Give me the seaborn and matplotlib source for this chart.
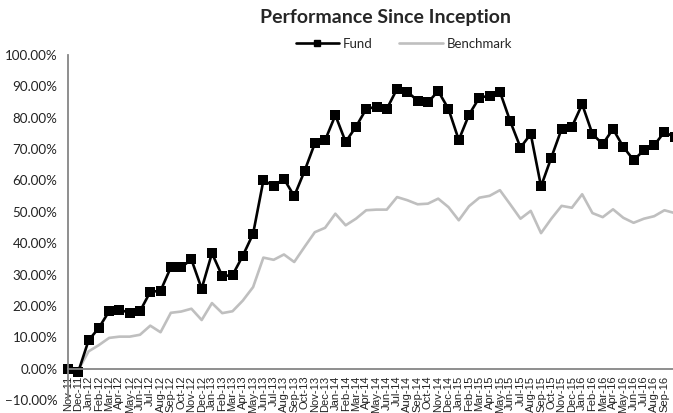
import pandas as pd
import numpy as np
import matplotlib
matplotlib.use("Agg")
import matplotlib.pyplot as plt
import seaborn as sns
from matplotlib.lines import Line2D
from matplotlib.ticker import PercentFormatter

# monthly cumulative returns (%), Nov-11 .. Oct-16 (last point cut off at right edge)
months = list(pd.date_range("2011-11-01", periods=60, freq="MS").strftime("%b-%y"))

fund = [0.0, -1.0, 9.0, 13.0, 18.3, 18.8, 17.8, 18.3, 24.5, 24.8,
        32.3, 32.3, 34.8, 25.5, 36.8, 29.5, 29.8, 36.0, 43.0, 60.0,
        58.3, 60.5, 55.0, 63.0, 71.8, 72.8, 80.8, 72.3, 77.1, 82.8,
        83.5, 82.8, 89.2, 88.3, 85.4, 84.9, 88.5, 82.8, 72.9, 81.0,
        86.4, 87.0, 88.3, 78.9, 70.5, 74.8, 58.1, 67.3, 76.4, 77.1,
        84.3, 74.8, 71.6, 76.4, 70.7, 66.5, 69.6, 71.2, 75.5, 73.7]

benchmark = [0.0, -0.5, 5.5, 7.5, 9.8, 10.2, 10.2, 10.8, 13.7, 11.6,
             17.8, 18.2, 19.1, 15.5, 20.9, 17.7, 18.3, 21.7, 26.0, 35.4,
             34.7, 36.4, 34.0, 38.8, 43.5, 44.9, 49.4, 45.7, 47.8, 50.5,
             50.7, 50.7, 54.7, 53.7, 52.4, 52.6, 54.2, 51.5, 47.3, 51.8,
             54.5, 55.1, 56.9, 52.4, 47.8, 50.3, 43.2, 47.8, 51.9, 51.3,
             55.6, 49.6, 48.3, 50.8, 48.1, 46.5, 47.8, 48.6, 50.5, 49.6]

df = pd.DataFrame({"idx": np.arange(len(months)),
                   "Fund": np.array(fund) / 100,
                   "Benchmark": np.array(benchmark) / 100})

sns.set_style("white")
plt.rcParams["font.family"] = ["Lato", "DejaVu Sans"]

fig = plt.figure(figsize=(6.73, 4.13), dpi=100)
# axes runs past the right edge, like the cropped original
ax = fig.add_axes([68 / 673, 13 / 413, 617 / 673, 345 / 413])

sns.lineplot(data=df, x="idx", y="Benchmark", ax=ax, color="#BFBFBF",
             linewidth=1.9, clip_on=False)
sns.lineplot(data=df, x="idx", y="Fund", ax=ax, color="black",
             linewidth=1.9, marker="s", markersize=6.8, markeredgewidth=0,
             clip_on=False)

ax.set_xlim(0, 60)
ax.set_ylim(-0.10, 1.00)
ax.set_yticks(np.arange(-0.10, 1.001, 0.10))
ax.yaxis.set_major_formatter(PercentFormatter(1.0, decimals=2))
ax.set_xticks(df["idx"].tolist())
# the last month's label falls outside the cropped picture
ax.set_xticklabels(months[:-1] + [""])
ax.set_xlabel("")
ax.set_ylabel("")

for side in ["top", "right"]:
    ax.spines[side].set_visible(False)
ax.spines["bottom"].set_position(("data", 0))
for side in ["bottom", "left"]:
    ax.spines[side].set_color("#868686")
    ax.spines[side].set_linewidth(1.3)
ax.tick_params(axis="x", direction="out", length=4, width=1, color="#404040",
               pad=1, labelcolor="#222222", labelrotation=90, labelsize=8)
ax.tick_params(axis="y", direction="out", length=4, width=1, color="#868686",
               labelsize=9.6, labelcolor="#222222")
for lab in ax.get_xticklabels():
    lab.set_fontfamily("Liberation Sans")
    lab.set_rotation(90)
    lab.set_va("top")
    lab.set_ha("center")

fig.text(386 / 673, 1 - 18 / 413, "Performance Since Inception",
         ha="center", va="center", fontsize=14, fontweight="bold")

handles = [Line2D([], [], color="black", linewidth=1.9, marker="s", markersize=4),
           Line2D([], [], color="#BFBFBF", linewidth=1.9)]
fig.legend(handles, ["Fund", "Benchmark"], loc="center", ncol=2,
           bbox_to_anchor=(404 / 673, 1 - 44 / 413), frameon=False,
           fontsize=9.5, handlelength=3.3, handletextpad=0.3,
           columnspacing=2.0)

fig.savefig("out.png", dpi=100)
